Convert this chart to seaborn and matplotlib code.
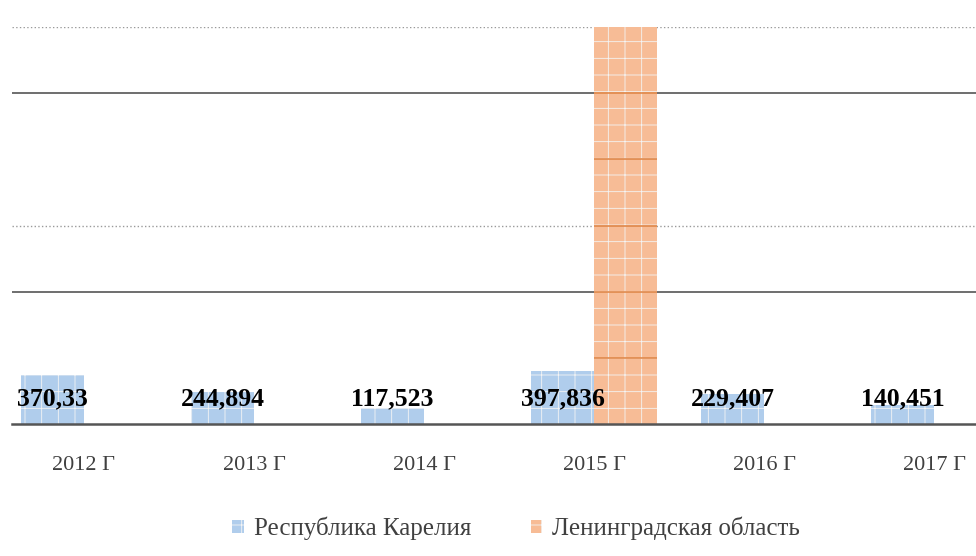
import numpy as np
import pandas as pd
import matplotlib
matplotlib.use("Agg")
import matplotlib.pyplot as plt
import seaborn as sns

years = ["2012 Г", "2013 Г", "2014 Г", "2015 Г", "2016 Г", "2017 Г"]
series_names = ["Республика Карелия", "Ленинградская область"]
karelia = [370.33, 244.894, 117.523, 397.836, 229.407, 140.451]
leningrad = [np.nan, np.nan, np.nan, 3251.05, np.nan, np.nan]
colors = ["#b0cdec", "#f7bc96"]

df = pd.DataFrame({
    "year": years * 2,
    "region": [series_names[0]] * len(years) + [series_names[1]] * len(years),
    "value": karelia + leningrad,
})

sns.set_theme(style="white")
plt.rcParams["font.family"] = ["Liberation Serif", "DejaVu Serif"]
plt.rcParams["hatch.linewidth"] = 0.6

fig = plt.figure(figsize=(9.76, 5.56), dpi=100)
ax = fig.add_axes([12 / 976, (556 - 424) / 556, 964 / 976, (424 - 27) / 556])

sns.barplot(data=df, x="year", y="value", hue="region", hue_order=series_names,
            palette=colors, saturation=1, width=0.74, ax=ax, edgecolor="#f4f4f4",
            linewidth=0, hatch="+", legend=True, zorder=2)

ax.set_xlim(-0.4235, 5.247)
ax.set_ylim(0, 3000)
ax.set_yticks([500, 1000, 1500, 2000, 2500, 3000])
ax.set_yticklabels([])
ax.tick_params(axis="y", length=0)
ax.tick_params(axis="x", length=0, pad=23, labelsize=16, labelcolor="#404040")
ax.set_xlabel("")
ax.set_ylabel("")
for s in ["top", "right", "left"]:
    ax.spines[s].set_visible(False)
ax.spines["bottom"].set_color("#555555")
ax.spines["bottom"].set_linewidth(1.8)
ax.spines["bottom"].set_zorder(5)

# grid lines with mixed styles as in reference
grid_styles = {3000: (":", "#9a9a9a", 1.0), 2500: ("-", "#555555", 1.2),
               1500: (":", "#9a9a9a", 1.0), 1000: ("-", "#555555", 1.2)}
for yv, (ls, c, lw) in grid_styles.items():
    ax.axhline(yv, ls=ls, color=c, lw=lw, zorder=1)

# darker orange lines visible over the orange bar
orange_patches = [p for p in ax.containers[1] if p.get_height() > 0]
for p in orange_patches:
    for yv in [500, 1000, 1500, 2000, 2500]:
        ln = ax.axhline(yv, color="#e0884a", lw=1.2, zorder=3)
        ln.set_clip_path(p)

# data labels
for p, v in zip(ax.containers[0], karelia):
    ax.text(p.get_x() + p.get_width() / 2, 190, f"{v}".replace(".", ","),
            ha="center", va="center", fontsize=18.5, fontweight="bold",
            color="black", zorder=6)
for p, v in zip(ax.containers[1], leningrad):
    if not np.isnan(v):
        ax.text(p.get_x() + p.get_width() / 2, 3068, f"{v:.2f}".replace(".", ","),
                ha="center", va="center", fontsize=18.5, fontweight="bold",
                color="black", zorder=6, clip_on=False)

sns.move_legend(ax, "lower center", bbox_to_anchor=(0.523, -0.35), ncol=2,
                frameon=False, title=None, fontsize=18, handlelength=0.45,
                handleheight=0.45, handletextpad=0.4, columnspacing=2.4)
for t in ax.get_legend().get_texts():
    t.set_color("#404040")

fig.savefig("out.png", dpi=100)
